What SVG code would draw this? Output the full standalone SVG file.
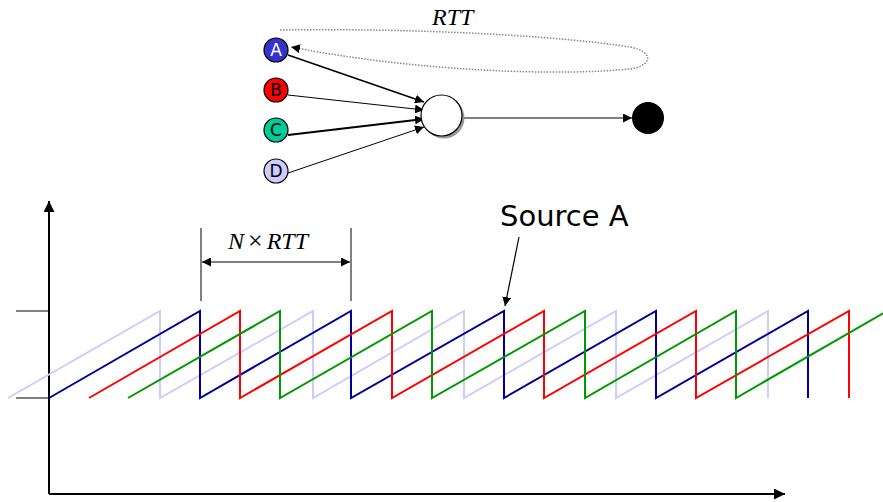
<svg xmlns="http://www.w3.org/2000/svg" width="883" height="502" viewBox="0 0 883 502">
  <defs>
    <marker id="arr" viewBox="0 0 10 10" refX="10" refY="5" markerWidth="9" markerHeight="9" markerUnits="userSpaceOnUse" orient="auto-start-reverse">
      <path d="M0,0 L10,5 L0,10 z" fill="#000"/>
    </marker>
    <marker id="arrBig" viewBox="0 0 10 10" refX="10" refY="5" markerWidth="11" markerHeight="11" markerUnits="userSpaceOnUse" orient="auto">
      <path d="M0,0 L10,5 L0,10 z" fill="#000"/>
    </marker>
    <style>
      .node { stroke: #000; stroke-width: 1.2; }
      .letter { font-family: "DejaVu Sans", "Liberation Sans", sans-serif; font-size: 17px; text-anchor: middle; }
      .edge { stroke: #000; fill: none; marker-end: url(#arr); }
      .axis { stroke: #000; stroke-width: 2; fill: none; }
      .tick { stroke: #000; stroke-width: 1; }
      .saw { fill: none; stroke-width: 2; stroke-linejoin: miter; }
      .math { font-family: "Liberation Serif", "Times New Roman", serif; font-style: italic; font-size: 24px; }
    </style>
  </defs>

  <!-- round-trip loop back to source A -->
  <g id="rtt-loop">
    <text class="math" x="432" y="25">RTT</text>
    <path d="M280,30 C420,28 560,36 630,47 C655,52 652,66 630,69 C560,76 420,72 291,47" fill="none" stroke="#888" stroke-width="1.5" stroke-dasharray="1.5 1.5" marker-end="url(#arr)"/>
  </g>

  <!-- links -->
  <g id="connectors">
    <line class="edge" x1="288" y1="55" x2="424" y2="102" stroke-width="1.6"/>
    <line class="edge" x1="288" y1="95" x2="424" y2="110" stroke-width="1"/>
    <line class="edge" x1="288" y1="135" x2="424" y2="119" stroke-width="1.8"/>
    <line class="edge" x1="288" y1="173" x2="424" y2="127" stroke-width="1"/>
    <line class="edge" x1="463" y1="118" x2="632" y2="118" stroke-width="1.2"/>
  </g>

  <g id="node-a">
    <circle class="node" cx="276" cy="50" r="12" fill="#3333cc"/>
    <text class="letter" x="276" y="56" fill="#fff">A</text>
  </g>
  <g id="node-b">
    <circle class="node" cx="276" cy="90" r="12" fill="#ff0000"/>
    <text class="letter" x="276" y="96" fill="#000">B</text>
  </g>
  <g id="node-c">
    <circle class="node" cx="276" cy="130" r="12" fill="#00cc99"/>
    <text class="letter" x="276" y="136" fill="#000">C</text>
  </g>
  <g id="node-d">
    <circle class="node" cx="276" cy="171" r="12" fill="#ccccff"/>
    <text class="letter" x="276" y="177" fill="#000">D</text>
  </g>
  <g id="router">
    <circle cx="444" cy="118" r="20.5" fill="#999"/>
    <circle class="node" cx="441.5" cy="115.5" r="20.5" fill="#fff"/>
  </g>
  <g id="sink">
    <circle cx="648" cy="118" r="16" fill="#000"/>
  </g>

  <!-- plot axes -->
  <g id="axes">
    <line class="axis" x1="49" y1="494" x2="49" y2="201" marker-end="url(#arrBig)"/>
    <line class="axis" x1="49" y1="494" x2="785" y2="494" marker-end="url(#arrBig)"/>
    <line class="tick" x1="16" y1="311" x2="49" y2="311"/>
    <line class="tick" x1="16" y1="398" x2="49" y2="398"/>
  </g>

  <!-- window sawtooth for each source -->
  <g id="sawtooth">
    <polyline class="saw" stroke="#ccccff" points="8,398 160,311 160,398 313,311 313,398 464,311 464,398 616,311 616,398 768,311 768,398"/>
    <polyline class="saw" stroke="#000099" points="49,398 200,311 200,398 351,311 351,398 504,311 504,398 656,311 656,398 808,311 808,398"/>
    <polyline class="saw" stroke="#ff0000" points="89,398 240,311 240,398 392,311 392,398 544,311 544,398 696,311 696,398 849,311 849,398"/>
    <polyline class="saw" stroke="#009900" points="128,398 280,311 280,398 432,311 432,398 585,311 585,398 736,311 736,398 887,311"/>
  </g>

  <!-- period annotation -->
  <g id="period">
    <line class="tick" x1="201" y1="228" x2="201" y2="301"/>
    <line class="tick" x1="351" y1="228" x2="351" y2="301"/>
    <line x1="202" y1="262" x2="350" y2="262" stroke="#000" stroke-width="1.2" marker-start="url(#arr)" marker-end="url(#arr)"/>
    <text class="math" x="228" y="249">N<tspan dx="4" font-style="normal" font-size="26">×</tspan><tspan dx="4">RTT</tspan></text>
  </g>

  <g id="source-label">
    <text x="500" y="226" font-family="DejaVu Sans, Liberation Sans, sans-serif" font-size="29">Source A</text>
    <line x1="519" y1="237" x2="505" y2="306" stroke="#000" stroke-width="1.2" marker-end="url(#arr)"/>
  </g>
</svg>
